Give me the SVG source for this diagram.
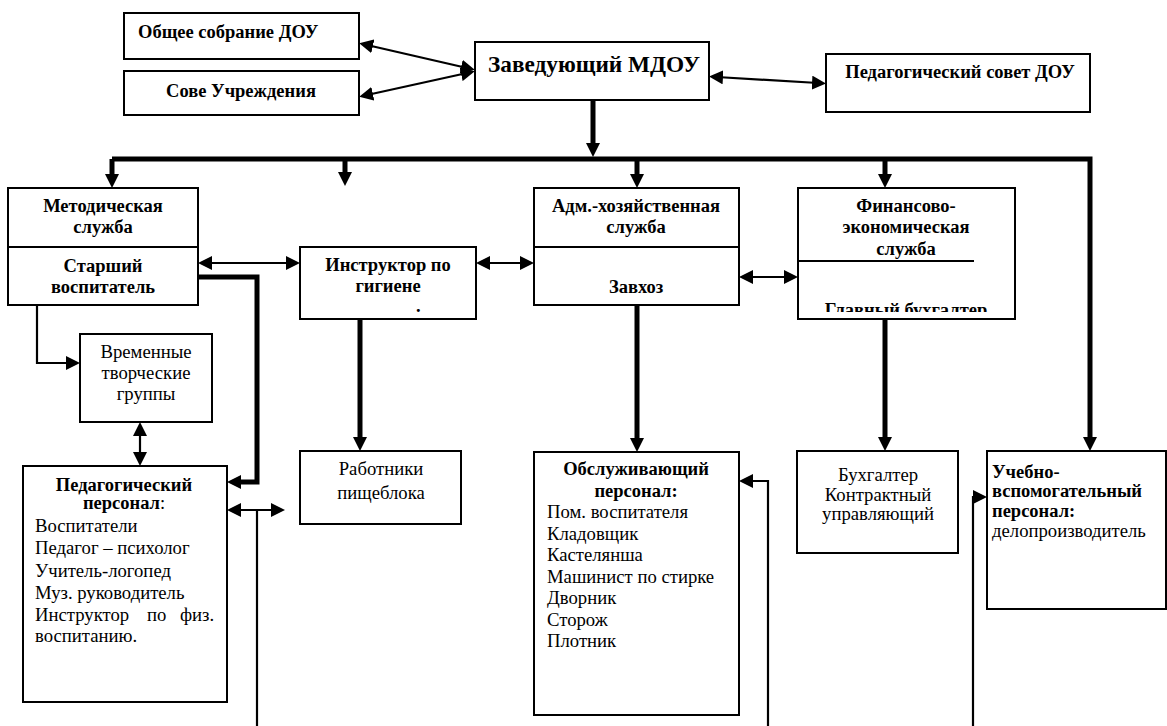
<svg xmlns="http://www.w3.org/2000/svg" width="1167" height="726" viewBox="0 0 1167 726">
<defs>
<style>
.box{fill:#fff;stroke:#000;stroke-width:2}
.div{stroke:#000;stroke-width:2;fill:none}
.b{font-family:"Liberation Serif","Times New Roman",serif;font-weight:bold;font-size:18.5px;fill:#000}
.n{font-family:"Liberation Serif","Times New Roman",serif;font-weight:normal;font-size:18.7px;fill:#000}
.c{text-anchor:middle}
.thin{fill:none;stroke:#000;stroke-width:2.2}
.thick{fill:none;stroke:#000;stroke-width:5}
</style>
<marker id="ah" viewBox="0 0 14 14" markerWidth="14" markerHeight="14" refX="6" refY="7" orient="auto-start-reverse" markerUnits="userSpaceOnUse">
<path d="M0,0 L14,7 L0,14 z" fill="#000"/>
</marker>
<clipPath id="finclip"><rect x="798" y="188" width="217" height="124"/></clipPath>
</defs>
<rect width="1167" height="726" fill="#fff"/>

<g id="connectors">
<path class="thin" d="M367,45 L467,68" marker-start="url(#ah)" marker-end="url(#ah)"/>
<path class="thin" d="M367,95 L467,73" marker-start="url(#ah)" marker-end="url(#ah)"/>
<path class="thin" d="M717,77 L818,83" marker-start="url(#ah)" marker-end="url(#ah)"/>
<path class="thick" d="M593,100 L593,149" marker-end="url(#ah)"/>
<path class="thick" d="M112,159 L1090,159 L1090,443" marker-end="url(#ah)"/>
<path class="thick" d="M112,159 L112,180" marker-end="url(#ah)"/>
<path class="thick" d="M345,159 L345,178" marker-end="url(#ah)"/>
<path class="thick" d="M637,159 L637,180" marker-end="url(#ah)"/>
<path class="thick" d="M885,159 L885,180" marker-end="url(#ah)"/>
<path class="thin" d="M206,263 L292,263" marker-start="url(#ah)" marker-end="url(#ah)"/>
<path class="thin" d="M484,263 L526,263" marker-start="url(#ah)" marker-end="url(#ah)"/>
<path class="thin" d="M747,277 L790,277" marker-start="url(#ah)" marker-end="url(#ah)"/>
<path class="thick" d="M198,277 L257,277 L257,482 L235,482" marker-end="url(#ah)"/>
<path class="thin" d="M37,305 L37,363 L72,363" marker-end="url(#ah)"/>
<path class="thin" d="M140,430 L140,458" marker-start="url(#ah)" marker-end="url(#ah)"/>
<path class="thick" d="M360,319 L360,443" marker-end="url(#ah)"/>
<path class="thick" d="M637,305 L637,444" marker-end="url(#ah)"/>
<path class="thick" d="M885,319 L885,443" marker-end="url(#ah)"/>
<path class="thin" d="M235,510 L277,510" marker-start="url(#ah)" marker-end="url(#ah)"/>
<path class="thin" d="M257,510 L257,726"/>
<path class="thin" d="M768,726 L768,481 L747,481" marker-end="url(#ah)"/>
<path class="thin" d="M973,726 L973,497 L979,497" marker-end="url(#ah)"/>
</g>

<g id="obshchee">
<rect class="box" x="124" y="13" width="235" height="46"/>
<text class="b" x="138" y="38">Общее собрание ДОУ</text>
</g>
<g id="sovet">
<rect class="box" x="124" y="71" width="235" height="44"/>
<text class="b c" x="241" y="97">Сове Учреждения</text>
</g>
<g id="zaveduyushchiy">
<rect class="box" x="475" y="42" width="234" height="58"/>
<text class="b c" x="594" y="72" style="font-size:23.3px">Заведующий МДОУ</text>
</g>
<g id="pedsovet">
<rect class="box" x="826" y="54" width="264" height="58"/>
<text class="b c" x="960" y="78">Педагогический совет ДОУ</text>
</g>
<g id="metod">
<rect class="box" x="8" y="188" width="190" height="117"/>
<line class="div" x1="8" y1="247" x2="198" y2="247"/>
<text class="b c" x="103" y="212">Методическая</text>
<text class="b c" x="103" y="233">служба</text>
<text class="b c" x="103" y="272">Старший</text>
<text class="b c" x="103" y="293">воспитатель</text>
</g>
<g id="instruktor">
<rect class="box" x="300" y="247" width="176" height="72"/>
<text class="b c" x="388" y="271">Инструктор по</text>
<text class="b c" x="388" y="292">гигиене</text>
<text class="b" x="416" y="312">.</text>
</g>
<g id="adm">
<rect class="box" x="534" y="188" width="205" height="117"/>
<line class="div" x1="534" y1="247" x2="739" y2="247"/>
<text class="b c" x="636" y="212">Адм.-хозяйственная</text>
<text class="b c" x="636" y="233">служба</text>
<text class="b c" x="636" y="293">Завхоз</text>
</g>
<g id="fin">
<rect class="box" x="798" y="188" width="217" height="131"/>
<line class="div" x1="798" y1="261" x2="974" y2="261"/>
<text class="b c" x="906" y="212">Финансово-</text>
<text class="b c" x="906" y="233">экономическая</text>
<text class="b c" x="906" y="255">служба</text>
<text class="b c" x="906" y="316" clip-path="url(#finclip)">Главный бухгалтер</text>
</g>
<g id="vremennye">
<rect class="box" x="80" y="334" width="132" height="88"/>
<text class="n c" x="146" y="358">Временные</text>
<text class="n c" x="146" y="379">творческие</text>
<text class="n c" x="146" y="400">группы</text>
</g>
<g id="pedpersonal">
<rect class="box" x="23" y="466" width="204" height="236"/>
<text class="b c" x="124" y="491">Педагогический</text>
<text class="b c" x="124" y="509">персонал<tspan style="font-weight:normal">:</tspan></text>
<text class="n" x="35" y="532">Воспитатели</text>
<text class="n" x="35" y="554">Педагог – психолог</text>
<text class="n" x="35" y="577">Учитель-логопед</text>
<text class="n" x="35" y="599">Муз. руководитель</text>
<text class="n" y="621"><tspan x="35">Инструктор</tspan><tspan x="147">по</tspan><tspan x="180">физ.</tspan></text>
<text class="n" x="35" y="642">воспитанию.</text>
</g>
<g id="rabotniki">
<rect class="box" x="300" y="451" width="161" height="73"/>
<text class="n c" x="381" y="475">Работники</text>
<text class="n c" x="381" y="499">пищеблока</text>
</g>
<g id="obsluzh">
<rect class="box" x="534" y="452" width="205" height="263"/>
<text class="b c" x="636" y="475">Обслуживающий</text>
<text class="b c" x="636" y="497">персонал:</text>
<text class="n" x="547" y="518">Пом. воспитателя</text>
<text class="n" x="547" y="540">Кладовщик</text>
<text class="n" x="547" y="561">Кастелянша</text>
<text class="n" x="547" y="583">Машинист по стирке</text>
<text class="n" x="547" y="604">Дворник</text>
<text class="n" x="547" y="626">Сторож</text>
<text class="n" x="547" y="647">Плотник</text>
</g>
<g id="buhgalter">
<rect class="box" x="797" y="451" width="161" height="102"/>
<text class="n c" x="878" y="481">Бухгалтер</text>
<text class="n c" x="878" y="501">Контрактный</text>
<text class="n c" x="878" y="520">управляющий</text>
</g>
<g id="uchebno">
<rect class="box" x="987" y="451" width="179" height="158"/>
<text class="b" x="992" y="478">Учебно-</text>
<text class="b" x="992" y="497">вспомогательный</text>
<text class="b" x="992" y="517">персонал:</text>
<text class="n" x="992" y="537">делопроизводитель</text>
</g>
</svg>
